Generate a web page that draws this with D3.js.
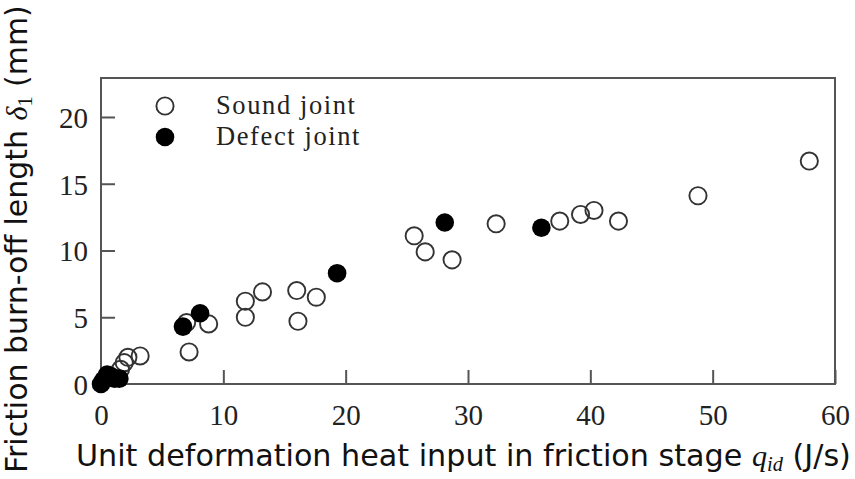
<!DOCTYPE html>
<html>
<head>
<meta charset="utf-8">
<script src="https://cdn.jsdelivr.net/npm/d3@7"></script>
<style>
html,body{margin:0;padding:0;background:#fff;}
svg{display:block;}
</style>
</head>
<body>
<svg id="chart" width="855" height="479"></svg>
<script>
// ---- data ----
const soundX = [1.6, 1.9, 2.2, 3.2, 7.0, 7.2, 8.8, 11.8, 11.8, 13.2, 16.0, 16.1, 17.6, 25.6, 26.5, 28.7, 32.3, 37.5, 39.2, 40.3, 42.3, 48.8, 57.9];
const soundY = [1.1, 1.6, 2.0, 2.1, 4.6, 2.4, 4.5, 5.0, 6.2, 6.9, 7.0, 4.7, 6.5, 11.1, 9.9, 9.3, 12.0, 12.2, 12.7, 13.0, 12.2, 14.1, 16.7];
const defectX = [0.0, 0.2, 0.5, 0.8, 1.1, 1.5, 6.7, 8.1, 19.3, 28.1, 36.0];
const defectY = [0.0, 0.3, 0.7, 0.6, 0.4, 0.4, 4.3, 5.3, 8.3, 12.1, 11.7];
const xTicks = [0, 10, 20, 30, 40, 50, 60];
const yTicks = [0, 5, 10, 15, 20];
const legendLabels = ["Sound joint", "Defect joint"];

// ---- layout ----
const svg = d3.select("#chart");
const L = 101, R = 835, T = 78, B = 384;
const x = d3.scaleLinear().domain([0, 60]).range([L, R]);
const y = d3.scaleLinear().domain([0, 22.92]).range([B, T]);
const frameColor = "#555";
const serif = "'Liberation Serif', 'Times New Roman', serif";
const sans = "'DejaVu Sans', 'Open Sans', sans-serif";

// frame
svg.append("rect").attr("x", L).attr("y", T).attr("width", R - L).attr("height", B - T)
  .attr("fill", "none").attr("stroke", frameColor).attr("stroke-width", 2);

// x axis (ticks pointing inward)
const xAxis = d3.axisBottom(x).tickValues(xTicks).tickSizeInner(-14).tickSizeOuter(0).tickPadding(22);
const gx = svg.append("g").attr("transform", `translate(0,${B})`).call(xAxis);
gx.select(".domain").remove();
gx.selectAll(".tick line").attr("stroke", frameColor).attr("stroke-width", 2);
gx.selectAll(".tick text").attr("font-family", serif).attr("font-size", 29).attr("fill", "#222")
  .attr("dy", 0).attr("y", 41);

// y axis
const yAxis = d3.axisLeft(y).tickValues(yTicks).tickSizeInner(-14).tickSizeOuter(0).tickPadding(27);
const gy = svg.append("g").attr("transform", `translate(${L},0)`).call(yAxis);
gy.select(".domain").remove();
gy.selectAll(".tick line").attr("stroke", frameColor).attr("stroke-width", 2);
gy.selectAll(".tick text").attr("font-family", serif).attr("font-size", 29).attr("fill", "#222")
  .attr("dy", "0.36em").attr("x", -13);

// points
const sound = soundX.map((v, i) => [v, soundY[i]]);
const defect = defectX.map((v, i) => [v, defectY[i]]);
svg.append("g").selectAll("circle").data(sound).join("circle")
  .attr("cx", d => x(d[0])).attr("cy", d => y(d[1])).attr("r", 8.6)
  .attr("fill", "none").attr("stroke", "#333").attr("stroke-width", 1.9);
svg.append("g").selectAll("circle").data(defect).join("circle")
  .attr("cx", d => x(d[0])).attr("cy", d => y(d[1])).attr("r", 9.3)
  .attr("fill", "#000");

// legend
const leg = svg.append("g");
leg.append("circle").attr("cx", 165).attr("cy", 106).attr("r", 8.6)
  .attr("fill", "none").attr("stroke", "#333").attr("stroke-width", 1.9);
leg.append("circle").attr("cx", 165).attr("cy", 137).attr("r", 9.3).attr("fill", "#000");
leg.selectAll("text").data(legendLabels).join("text")
  .attr("x", 216).attr("y", (d, i) => 114 + i * 31)
  .attr("font-family", serif).attr("font-size", 26.5).attr("letter-spacing", 1.6).attr("fill", "#222")
  .text(d => d);

// x axis title
const xt = svg.append("text").attr("x", 76).attr("y", 466)
  .attr("font-family", sans).attr("font-size", 28).attr("fill", "#111");
xt.append("tspan").text("Unit deformation heat input in friction stage ");
xt.append("tspan").attr("font-family", serif).attr("font-style", "italic").text("q");
xt.append("tspan").attr("font-family", serif).attr("font-style", "italic").attr("font-size", 19).attr("dy", 5).text("id");
xt.append("tspan").attr("dy", -5).text(" (J/s)");
// fit width to reference
(function fit(){
  const target = 775;
  const w = xt.node().getComputedTextLength();
  const s = target / w;
  xt.attr("font-size", 28 * s);
  xt.selectAll("tspan").filter(function(){ return this.getAttribute("font-size") === "19"; }).attr("font-size", 19 * s);
})();

// y axis title
const yt = svg.append("text").attr("transform", "translate(27,473) rotate(-90)")
  .attr("font-family", sans).attr("font-size", 28).attr("fill", "#111");
yt.append("tspan").text("Friction burn-off length ");
yt.append("tspan").attr("font-family", serif).attr("font-style", "italic").text("δ");
yt.append("tspan").attr("font-family", serif).attr("font-size", 19).attr("dy", 5).text("1");
yt.append("tspan").attr("dy", -5).text(" (mm)");
(function fitY(){
  const target = 468;
  const w = yt.node().getComputedTextLength();
  const s = target / w;
  yt.attr("font-size", 28 * s);
  yt.selectAll("tspan").filter(function(){ return this.getAttribute("font-size") === "19"; }).attr("font-size", 19 * s);
})();
</script>
</body>
</html>
